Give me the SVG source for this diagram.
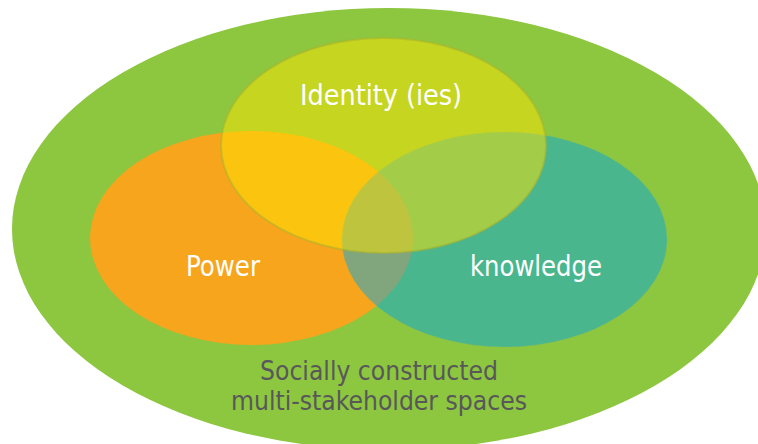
<svg xmlns="http://www.w3.org/2000/svg" width="758" height="444" viewBox="0 0 758 444">
  <style>
    .lbl { font-family: "DejaVu Sans Condensed", "DejaVu Sans", "Liberation Sans", sans-serif; fill: #FFFFFF; font-size: 28px; text-anchor: middle; }
    .cap { font-family: "DejaVu Sans Condensed", "DejaVu Sans", "Liberation Sans", sans-serif; fill: #58585A; font-size: 26px; text-anchor: middle; }
  </style>
  <rect width="758" height="444" fill="#FFFFFF"/>
  <g id="spaces">
    <ellipse cx="389" cy="229" rx="377" ry="221" fill="#8DC63F"/>
    <text class="cap" x="379" y="380" textLength="238" lengthAdjust="spacingAndGlyphs">Socially constructed</text>
    <text class="cap" x="379" y="410" textLength="296" lengthAdjust="spacingAndGlyphs">multi-stakeholder spaces</text>
  </g>
  <g id="power">
    <ellipse cx="251.5" cy="238" rx="161.5" ry="107" fill="#F7A51D"/>
  </g>
  <g id="knowledge">
    <ellipse cx="504.5" cy="239.5" rx="162.5" ry="107.5" fill="#00A5E6" fill-opacity="0.48" stroke="#7FB86A" stroke-opacity="0.3" stroke-width="1"/>
  </g>
  <g id="identity">
    <ellipse cx="383.5" cy="145.5" rx="162.5" ry="107.5" fill="#FDE401" fill-opacity="0.5" stroke="#A9B52E" stroke-opacity="0.55" stroke-width="2"/>
  </g>
  <g id="labels">
    <text class="lbl" x="381" y="105" textLength="162" lengthAdjust="spacingAndGlyphs">Identity (ies)</text>
    <text class="lbl" x="223" y="276" textLength="74" lengthAdjust="spacingAndGlyphs">Power</text>
    <text class="lbl" x="536" y="276" textLength="132" lengthAdjust="spacingAndGlyphs">knowledge</text>
  </g>
  <g id="connectors"></g>
</svg>
